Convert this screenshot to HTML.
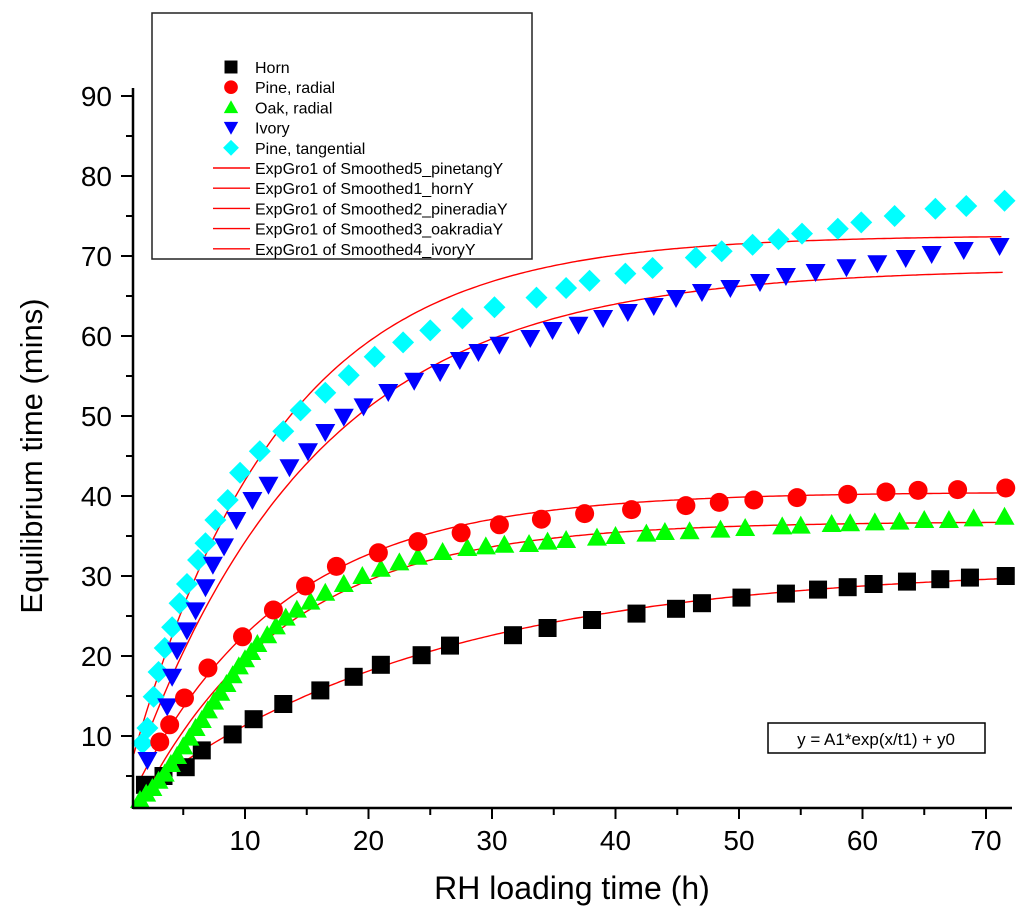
<!DOCTYPE html>
<html><head><meta charset="utf-8"><style>
body{margin:0;background:#fff;}
svg{display:block;font-family:"Liberation Sans",Arial,sans-serif;}
</style></head><body>
<svg id="chart" width="1024" height="922" viewBox="0 0 1024 922">
<g id="fits"></g>
<g id="marks"></g>
<g id="axes"></g>
<text x="572" y="899" font-size="32" text-anchor="middle">RH loading time (h)</text>
<text transform="translate(42,456) rotate(-90)" font-size="31" text-anchor="middle">Equilibrium time (mins)</text>
<g>
<rect x="152" y="13" width="380" height="246" fill="#fff" stroke="#222" stroke-width="1.5"/>
<g id="legend-items"></g>
</g>
<g>
<rect x="768" y="723" width="217" height="30" fill="#fff" stroke="#000" stroke-width="1.5"/>
<text x="876" y="745" font-size="17" text-anchor="middle">y = A1*exp(x/t1) + y0</text>
</g>
</svg>
<script>
const hornX=[1.9,3.4,5.2,6.5,9,10.7,13.1,16.1,18.8,21,24.3,26.6,31.7,34.5,38.1,41.7,44.9,47,50.2,53.8,56.4,58.8,60.9,63.6,66.3,68.7,71.6];
const hornY=[3.9,5,6.1,8.2,10.2,12.1,14,15.7,17.4,18.9,20.1,21.3,22.6,23.5,24.5,25.3,25.9,26.6,27.3,27.8,28.3,28.6,29,29.3,29.6,29.8,30];
const pineRX=[3.1,3.9,5.1,7.0,9.8,12.3,14.9,17.4,20.8,24.0,27.5,30.6,34.0,37.5,41.3,45.7,48.4,51.2,54.7,58.8,61.9,64.5,67.7,71.6];
const pineRY=[9.25,11.4,14.75,18.5,22.4,25.75,28.75,31.2,32.9,34.3,35.4,36.4,37.1,37.8,38.3,38.8,39.2,39.5,39.8,40.2,40.5,40.7,40.8,41];
const oakX=[1.5,2,2.5,3,3.5,4,4.5,5,5.5,6,6.5,7,7.5,8,8.5,9,9.5,10,10.5,11,11.8,12.5,13.3,14.2,15.3,16.5,18,19.5,21,22.5,24,26,28,29.5,31,33,34.5,36,38.5,40,42.5,44,46,48.5,50.5,53.5,55,57.5,59,61,63,65,67,69,71.5];
const oakY=[2,2.8,3.5,4.4,5.3,6.5,7.5,8.7,9.8,11,12,13.2,14.3,15.4,16.5,17.6,18.7,19.6,20.5,21.5,22.6,23.7,24.8,25.8,26.8,27.9,29,30,30.9,31.7,32.4,33,33.5,33.7,33.9,34,34.3,34.5,34.8,35,35.3,35.5,35.6,35.8,36,36.2,36.3,36.5,36.6,36.7,36.8,37,37,37.2,37.4];
const ivoryX=[2.1,3.7,4.1,4.5,5.3,6,6.8,7.4,8.3,9.3,10.6,11.9,13.6,15.1,16.5,18,19.6,21.6,23.7,25.8,27.4,28.9,30.6,33.1,34.9,37,39,41,43.1,44.9,47,49.3,51.7,53.8,56.2,58.7,61.2,63.5,65.6,68.2,71.1];
const ivoryY=[7,13.7,17.4,20.7,23.2,25.7,28.6,31.4,33.7,37,39.5,41.4,43.6,45.6,48,49.9,51.2,53,54.4,55.5,57,58,58.9,59.75,60.75,61.4,62.25,63,63.75,64.75,65.5,66,66.75,67.5,68,68.6,69.1,69.75,70.25,70.75,71.25];
const pineTX=[1.7,2.1,2.6,3,3.5,4.1,4.7,5.3,6.2,6.8,7.6,8.6,9.6,11.2,13.1,14.5,16.5,18.4,20.5,22.8,25,27.6,30.2,33.6,36,37.9,40.8,43,46.5,48.6,51.1,53.2,55.1,58,59.9,62.6,65.9,68.4,71.5];
const pineTY=[9.1,11,14.9,18,21,23.6,26.6,29,32,34.1,37,39.5,42.9,45.6,48.1,50.7,52.9,55.1,57.4,59.2,60.7,62.2,63.6,64.8,66,66.9,67.8,68.5,69.8,70.6,71.4,72.1,72.8,73.4,74.2,75,75.9,76.25,76.9];
const fitNames=["pinetang","horn","pineradia","oakradia","ivory"];
const fitY0=[72.6,31.2,40.5,36.8,68.5];
const fitB=[70.5,30.2,40.7,40.0,67.3];
const fitT=[12.0,23.9,12.1,11.8,14.8];
const fitStart=[1.0,1.9,1.5,1.3,2.1];
const fitEnd=71.4;
const xTicks=[10,20,30,40,50,60,70];
const yTicks=[10,20,30,40,50,60,70,80,90];

const NS="http://www.w3.org/2000/svg";
const X0=133,X1=1012,Y0=808;
function sx(v){return 121.5+v*12.35;}
function sy(v){return 816-v*8;}
function el(tag,attrs,parent){const e=document.createElementNS(NS,tag);for(const k in attrs)e.setAttribute(k,attrs[k]);parent.appendChild(e);return e;}

const fits=document.getElementById('fits');
for(let i=0;i<fitNames.length;i++){
  let d="";
  for(let x=fitStart[i];x<=fitEnd+0.001;x+=0.25){
    const y=fitY0[i]-fitB[i]*Math.exp(-x/fitT[i]);
    d+=(d?"L":"M")+sx(x).toFixed(1)+","+sy(y).toFixed(1);
  }
  const p=el('path',{d:d,fill:"none",stroke:"#f00","stroke-width":1.4},fits);
  
  
}

function marker(type,cx,cy,parent){
  let e;
  if(type==="square") e=el('rect',{x:cx-9,y:cy-9,width:18,height:18,fill:"#000"},parent);
  else if(type==="circle") e=el('circle',{cx:cx,cy:cy,r:9.5,fill:"#f00"},parent);
  else if(type==="up") e=el('polygon',{points:`${cx},${cy-10} ${cx+10},${cy+8} ${cx-10},${cy+8}`,fill:"#0f0"},parent);
  else if(type==="down") e=el('polygon',{points:`${cx-10},${cy-8} ${cx+10},${cy-8} ${cx},${cy+10}`,fill:"#00f"},parent);
  else e=el('polygon',{points:`${cx},${cy-11} ${cx+11},${cy} ${cx},${cy+11} ${cx-11},${cy}`,fill:"#0ff"},parent);
  return e;
}
const marks=document.getElementById('marks');
const series=[["horn","square",hornX,hornY],["pine-tangential","diamond",pineTX,pineTY],["ivory","down",ivoryX,ivoryY],["oak-radial","up",oakX,oakY],["pine-radial","circle",pineRX,pineRY]];
series.forEach(s=>{
  const g=el('g',{},marks);
  
  
  for(let i=0;i<s[2].length;i++){
    const m=marker(s[1],sx(s[2][i]),sy(s[3][i]),g);
    
    
  }
});

const axes=document.getElementById('axes');
el('line',{x1:X0,y1:Y0,x2:X1,y2:Y0,stroke:"#000","stroke-width":2.5},axes);
el('line',{x1:X0,y1:Y0+1,x2:X0,y2:sy(91),stroke:"#000","stroke-width":2.5},axes);
for(let v=5;v<=70;v+=5){
  const major=v%10===0;
  el('line',{x1:sx(v),y1:Y0,x2:sx(v),y2:Y0+(major?11:7),stroke:"#000","stroke-width":2},axes);
}
xTicks.forEach(v=>{
  const t=el('text',{x:sx(v),y:Y0+42,"font-size":28,"text-anchor":"middle"},axes);
  t.textContent=v;
  
  
});
for(let v=5;v<=90;v+=5){
  const major=v%10===0;
  el('line',{x1:X0,y1:sy(v),x2:X0-(major?12:7),y2:sy(v),stroke:"#000","stroke-width":2},axes);
}
yTicks.forEach(v=>{
  const t=el('text',{x:X0-21,y:sy(v)+10,"font-size":28,"text-anchor":"end"},axes);
  t.textContent=v;
  
  
});

const legendLabels=["Horn","Pine, radial","Oak, radial","Ivory","Pine, tangential","ExpGro1 of Smoothed5_pinetangY","ExpGro1 of Smoothed1_hornY","ExpGro1 of Smoothed2_pineradiaY","ExpGro1 of Smoothed3_oakradiaY","ExpGro1 of Smoothed4_ivoryY"];
const legendTypes=["square","circle","up","down","diamond","line","line","line","line","line"];
const li=document.getElementById('legend-items');
legendLabels.forEach((lab,i)=>{
  const y=67+i*20.2;
  const g=el('g',{},li);
  
  
  if(legendTypes[i]==="line") el('line',{x1:213,y1:y,x2:250,y2:y,stroke:"#f00","stroke-width":1.4},g);
  else {
    const m=marker(legendTypes[i],231,y,g);
    m.setAttribute('transform',`translate(231,${y}) scale(0.72) translate(-231,${-y})`);
  }
  const t=el('text',{x:255,y:y+6,"font-size":16},g);
  t.textContent=lab;
});
</script>
</body></html>
